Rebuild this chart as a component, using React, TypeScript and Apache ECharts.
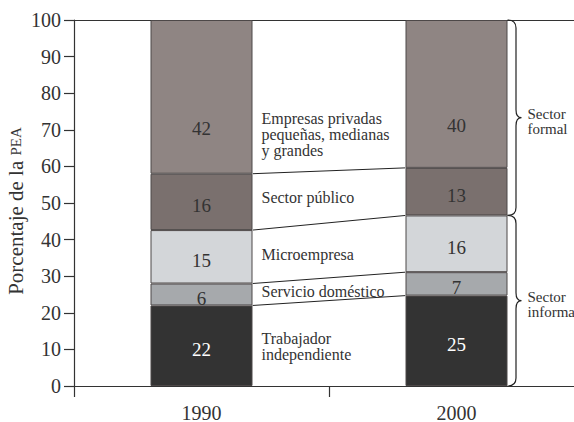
import React, { useEffect, useRef } from 'react';
import * as echarts from 'echarts';

// ---- data ----
const years = ['1990', '2000'];
const segmentNames = [
  'Trabajador independiente',
  'Servicio doméstico',
  'Microempresa',
  'Sector público',
  'Empresas privadas pequeñas, medianas y grandes',
];
// drawn heights of the stacked segments (percent of PEA), bottom to top
const heights1990 = [22, 6, 14.6, 15.4, 42];
const heights2000 = [24.7, 6.4, 15.5, 13, 40.4];
// printed figures inside the segments
const labels1990 = ['22', '6', '15', '16', '42'];
const labels2000 = ['25', '7', '16', '13', '40'];
// text between the bars
const annotationTexts = [
  'Trabajador\nindependiente',
  'Servicio doméstico',
  'Microempresa',
  'Sector público',
  'Empresas privadas\npequeñas, medianas\ny grandes',
];
// as visible in the reference (the last letter falls outside the picture)
const sectorTexts = ['Sector\ninforma', 'Sector\nformal'];
const yMin = 0;
const yMax = 100;
const yInterval = 10;

// ---- positions / styles (kept apart from the data) ----
const annotationY = [10.8, 25.8, 35.9, 51.5, 68.7];
const segmentColors = ['#333333', '#a6a9ac', '#d3d6d9', '#7a706e', '#8f8583'];
const FONT = 'Liberation Serif';
const INK = '#333333';

const cumulative = (arr: number[]) => {
  const out: number[] = [];
  let s = 0;
  for (const v of arr) {
    s += v;
    out.push(s);
  }
  return out;
};

export default function App() {
  const ref = useRef<HTMLDivElement>(null);

  useEffect(() => {
    if (!ref.current) return;
    const chart = echarts.init(ref.current, null, { renderer: 'svg' });
    const cum1990 = cumulative(heights1990);
    const cum2000 = cumulative(heights2000);
    const BAR_FRAC = 0.4;

    const barSeries = segmentNames.map((name, i) => ({
      name,
      type: 'bar',
      stack: 'pea',
      barWidth: '40%',
      silent: true,
      data: [heights1990[i], heights2000[i]],
      itemStyle: { color: segmentColors[i], borderColor: '#4d4848', borderWidth: 1 },
      label: {
        show: true,
        position: 'inside',
        offset: i === 4 ? [0, 32] : [0, 4],
        formatter: (p: any) => (p.dataIndex === 0 ? labels1990[i] : labels2000[i]),
        color: i === 0 ? '#ffffff' : INK,
        fontFamily: FONT,
        fontSize: 19,
      },
      emphasis: { disabled: true },
    }));

    const connectorData = [0, 1, 2, 3].map((i) => [0, cum1990[i], cum2000[i]]);

    const option: any = {
      animation: false,
      grid: { left: 74, right: -10, top: 20, bottom: 36, containLabel: false, outerBoundsMode: 'none' },
      xAxis: [
        {
          type: 'category',
          data: years,
          boundaryGap: true,
          axisLine: { show: true, lineStyle: { color: INK, width: 1.2 } },
          axisTick: { show: true, length: 11, alignWithLabel: false, lineStyle: { color: INK, width: 1.2 } },
          axisLabel: { color: INK, fontFamily: FONT, fontSize: 20, lineHeight: 17, margin: 18 },
        },
        {
          type: 'category',
          data: years,
          position: 'top',
          axisLine: { show: true, lineStyle: { color: INK, width: 1.2 } },
          axisTick: { show: false },
          axisLabel: { show: false },
        },
      ],
      yAxis: {
        type: 'value',
        min: yMin,
        max: yMax,
        interval: yInterval,
        name: 'Porcentaje de la {s|PEA}',
        nameLocation: 'middle',
        nameRotate: 90,
        nameGap: 49,
        nameMoveOverlap: false,
        nameTextStyle: {
          color: INK,
          fontFamily: FONT,
          fontSize: 21,
          lineHeight: 19,
          padding: [0, 16, 0, 0],
          rich: { s: { fontFamily: FONT, fontSize: 15, lineHeight: 19, color: INK } },
        },
        axisLine: { show: true, lineStyle: { color: INK, width: 1.2 } },
        axisTick: { show: true, length: 10, lineStyle: { color: INK, width: 1.2 } },
        axisLabel: { color: INK, fontFamily: FONT, fontSize: 20, margin: 13 },
        splitLine: { show: false },
      },
      series: [
        ...barSeries,
        {
          type: 'custom',
          name: 'connectors',
          silent: true,
          encode: { x: 0, y: [1, 2] },
          data: connectorData,
          renderItem: (params: any, api: any) => {
            const a = api.coord([0, api.value(1)]);
            const b = api.coord([1, api.value(2)]);
            const hw = (api.size([1, 0])[0] * BAR_FRAC) / 2;
            return {
              type: 'line',
              shape: { x1: a[0] + hw, y1: a[1], x2: b[0] - hw, y2: b[1] },
              style: { stroke: '#222222', lineWidth: 1 },
            };
          },
        },
        {
          type: 'custom',
          name: 'annotations',
          silent: true,
          encode: { x: 0, y: 1 },
          data: annotationY.map((y) => [0, y]),
          renderItem: (params: any, api: any) => {
            const p = api.coord([0, api.value(1)]);
            const hw = (api.size([1, 0])[0] * BAR_FRAC) / 2;
            return {
              type: 'text',
              style: {
                text: annotationTexts[params.dataIndex],
                x: p[0] + hw + 9,
                y: p[1],
                align: 'left',
                verticalAlign: 'middle',
                fontFamily: FONT,
                fontSize: 16,
                lineHeight: 16,
                fill: INK,
              },
            };
          },
        },
        {
          type: 'custom',
          name: 'braces',
          silent: true,
          encode: { x: 0, y: [1, 2] },
          data: [
            [1, 0, cum2000[2]],
            [1, cum2000[2], yMax],
          ],
          renderItem: (params: any, api: any) => {
            const lo = api.coord([1, api.value(1)]);
            const hi = api.coord([1, api.value(2)]);
            const hw = (api.size([1, 0])[0] * BAR_FRAC) / 2;
            const x0 = lo[0] + hw;
            const xv = x0 + 8.5;
            const xt = x0 + 14;
            const yt = hi[1];
            const yb = lo[1];
            const ym = (yt + yb) / 2;
            const r = 8;
            const d =
              `M${x0} ${yt} Q${xv} ${yt} ${xv} ${yt + r} L${xv} ${ym - r} ` +
              `Q${xv} ${ym} ${xt} ${ym} Q${xv} ${ym} ${xv} ${ym + r} ` +
              `L${xv} ${yb - r} Q${xv} ${yb} ${x0} ${yb}`;
            return {
              type: 'group',
              children: [
                {
                  type: 'path',
                  shape: { pathData: d },
                  style: { stroke: '#222222', lineWidth: 1.2, fill: null },
                },
                {
                  type: 'text',
                  style: {
                    text: sectorTexts[params.dataIndex],
                    x: xt + 6,
                    y: ym + 4,
                    align: 'left',
                    verticalAlign: 'middle',
                    fontFamily: FONT,
                    fontSize: 15,
                    lineHeight: 15,
                    fill: INK,
                  },
                },
              ],
            };
          },
        },
      ],
    };

    chart.setOption(option);
    return () => chart.dispose();
  }, []);

  return (
    <div
      ref={ref}
      style={{ position: 'fixed', left: 0, top: 0, width: 574, height: 422, background: '#ffffff' }}
    />
  );
}
